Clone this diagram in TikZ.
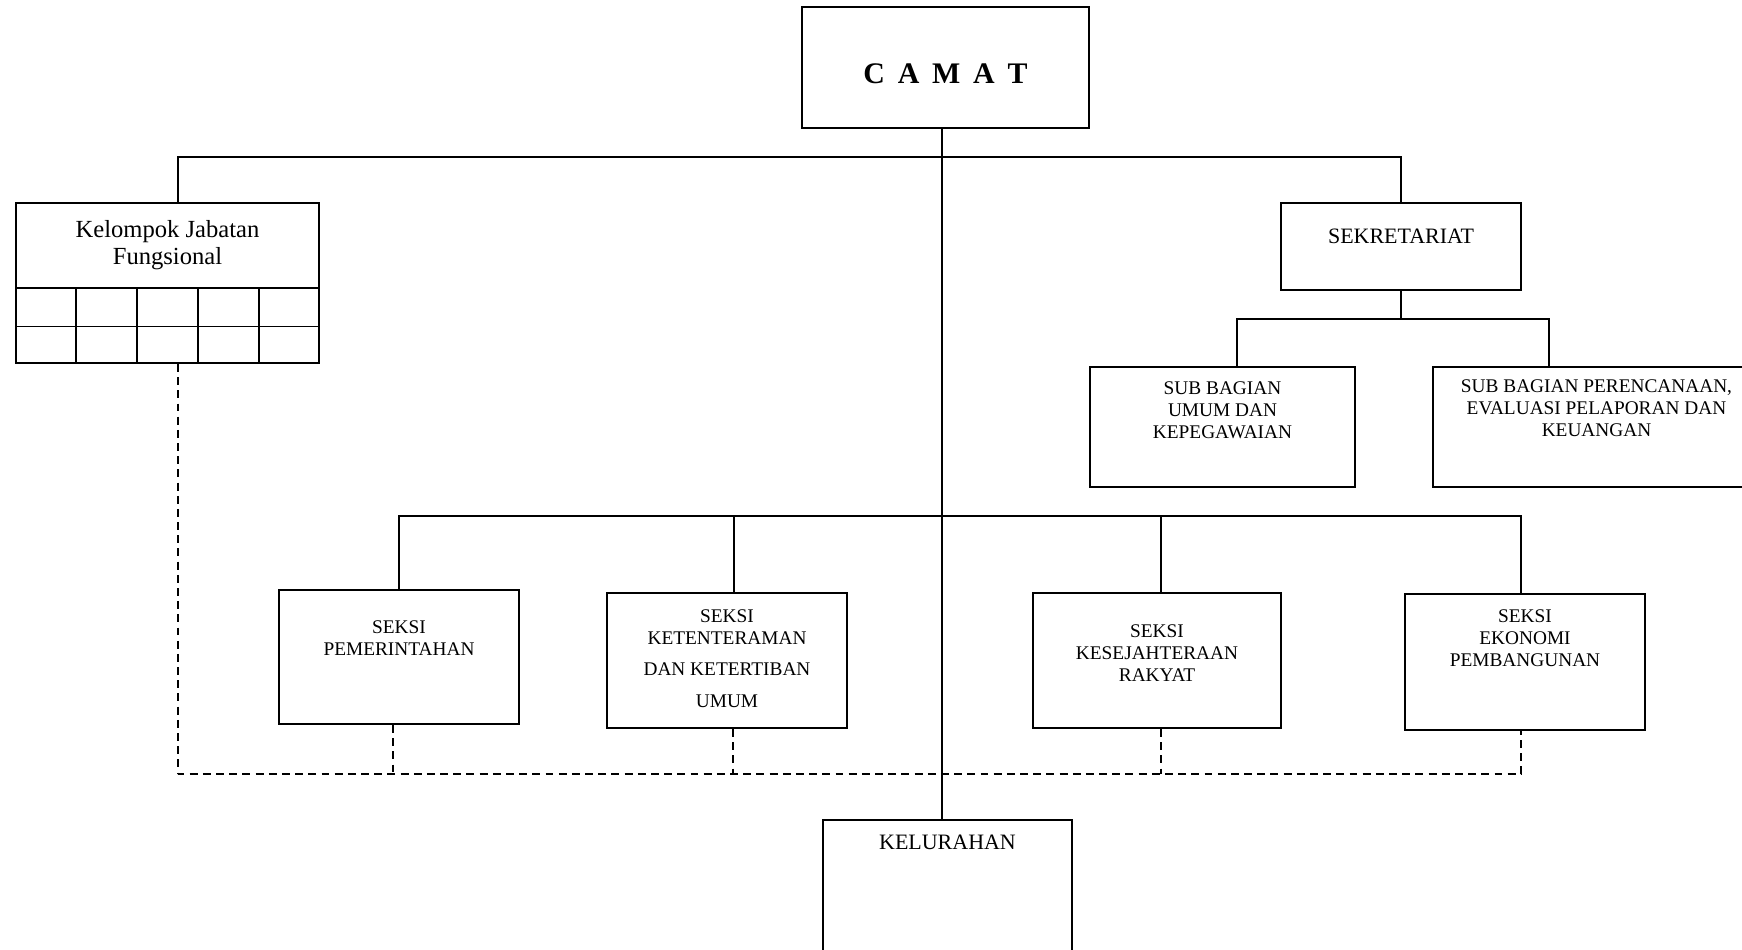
\documentclass[tikz,border=0pt]{standalone}
\usepackage{fontspec}
\setmainfont{Liberation Serif}
\usetikzlibrary{calc}
\tikzset{line width=1pt,
  unit/.style={draw,line width=1.1pt,inner sep=0pt},
  link/.style={draw,line width=1pt},
  liaison/.style={draw,line width=1pt,dash pattern=on 4.5pt off 3pt},
  lbl/.style={align=center,inner sep=0pt,font=\fontsize{11}{12.5}\selectfont},
  biglbl/.style={align=center,inner sep=0pt,font=\fontsize{12.5}{14}\selectfont}}
\begin{document}
\begin{tikzpicture}
\useasboundingbox (0,0) rectangle (34.84,-18.98);
\clip (0,0) rectangle (34.84,-18.98);
\foreach \name/\x/\y/\w/\h in {camat/18.91/-1.35/5.74/2.42,kjf/3.35/-5.66/6.06/3.2,
  sek/28.02/-4.93/4.8/1.74,umum/24.45/-8.54/5.3/2.4,ren/31.93/-8.54/6.54/2.4,
  pem/7.98/-13.14/4.8/2.68,ket/14.54/-13.21/4.8/2.7,kes/23.14/-13.21/4.96/2.7,
  eko/30.5/-13.24/4.8/2.72,kel/18.95/-18.3/4.98/3.8}
  {\node[unit,minimum width=\w cm,minimum height=\h cm] (\name) at (\x,\y) {};}
% kelompok grid
\draw[line width=1.1pt] ([yshift=1.52cm]kjf.south west) -- ([yshift=1.52cm]kjf.south east)
  ([yshift=.75cm]kjf.south west) -- ([yshift=.75cm]kjf.south east);
\foreach \i in {1,...,4}{\draw[line width=1.1pt] ($(kjf.south west)!\i/5!(kjf.south east)$) -- ++(0,1.52);}
% texts
\node[font=\bfseries\fontsize{17}{20}\selectfont,inner sep=0pt] (camat-t) at ([yshift=-1.36cm]camat.north) {\spaceskip=.43em C A M A T};
\node[align=center,inner sep=0pt,font=\fontsize{14}{15}\selectfont] (kjf-t) at ([yshift=-.86cm]kjf.north) {Kelompok Jabatan\\Fungsional};
\node[biglbl] (sek-t) at ([yshift=-.68cm]sek.north) {SEKRETARIAT};
\node[lbl] (umum-t) at ([yshift=-.88cm]umum.north) {SUB BAGIAN\\UMUM DAN\\KEPEGAWAIAN};
\node[lbl] (ren-t) at ([yshift=-.84cm]ren.north) {SUB BAGIAN PERENCANAAN,\\EVALUASI PELAPORAN DAN\\KEUANGAN};
\node[lbl] (pem-t) at ([yshift=-.99cm]pem.north) {SEKSI\\PEMERINTAHAN};
\node[lbl] (ket-t) at ([yshift=-1.33cm]ket.north) {SEKSI\\KETENTERAMAN\\[5.5pt]DAN KETERTIBAN\\[5.5pt]UMUM};
\node[lbl] (kes-t) at ([yshift=-1.22cm]kes.north) {SEKSI\\KESEJAHTERAAN\\RAKYAT};
\node[lbl] (eko-t) at ([yshift=-.9cm]eko.north) {SEKSI\\EKONOMI\\PEMBANGUNAN};
\node[biglbl] (kel-t) at ([yshift=-.46cm]kel.north) {KELURAHAN};
% connectors
\coordinate (topbar) at (18.84,-3.14);
\coordinate (subbar) at (28.1,-6.38);
\coordinate (seksibar) at (18.84,-10.32);
\coordinate (liaisonbar) at (3.56,-15.48);
\draw[link] ([xshift=-.07cm]camat.south) -- ([xshift=-.07cm]camat.south |- kel.north);
\draw[link] ([xshift=.21cm]kjf.north) |- (topbar) -| (sek.north);
\draw[link] (sek.south) -- (sek.south |- subbar);
\draw[link] ([xshift=.29cm]umum.north) |- (subbar) -| ([xshift=-.95cm]ren.north);
\draw[link] (pem.north) |- (seksibar) -| ([xshift=-.08cm]eko.north);
\foreach \s/\dx in {ket/.14,kes/.08}{\draw[link] ([xshift=\dx cm]\s.north) -- ([xshift=\dx cm]\s.north |- seksibar);}
\draw[liaison] ([xshift=.21cm]kjf.south) |- (liaisonbar) -| ([xshift=-.08cm]eko.south);
\foreach \s/\dx in {pem/-.12,ket/.12,kes/.08}{\draw[liaison] ([xshift=\dx cm]\s.south) -- ([xshift=\dx cm]\s.south |- liaisonbar);}
\end{tikzpicture}
\end{document}
